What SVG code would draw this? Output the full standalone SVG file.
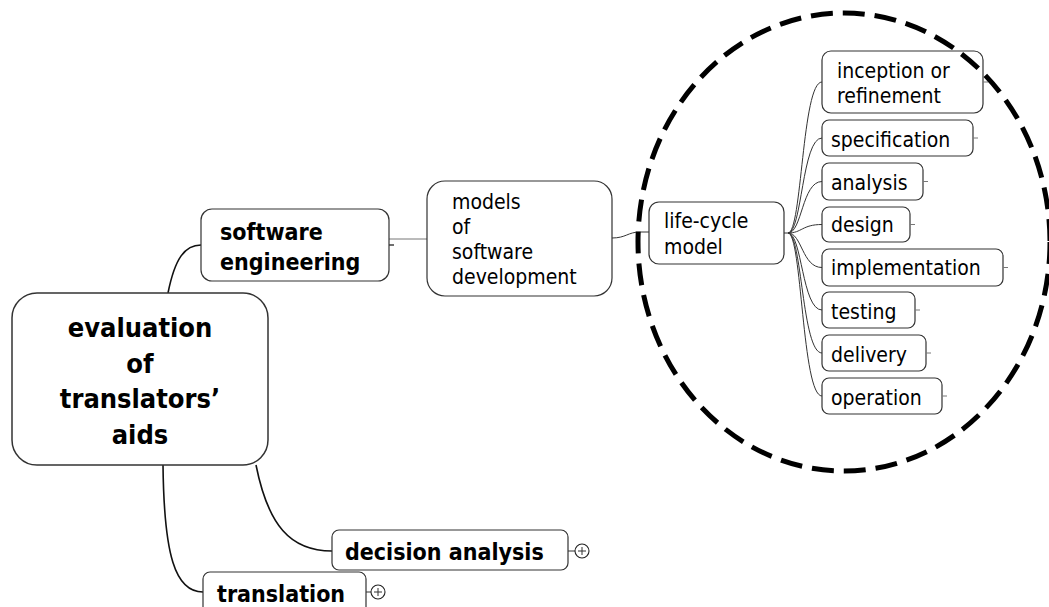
<svg xmlns="http://www.w3.org/2000/svg" width="1049" height="607" viewBox="0 0 1049 607">
  <style>
    text { font-family: "DejaVu Sans Condensed", "DejaVu Sans", sans-serif; font-stretch: condensed; fill: #000; }
    .b { font-weight: bold; font-size: 23px; }
    .root { font-weight: bold; font-size: 27px; text-anchor: middle; }
    .r { font-size: 21px; }
    .box { fill: #fff; stroke: #333; stroke-width: 1.2; }
    .main { fill: none; stroke: #111; stroke-width: 1.6; }
    .thin { fill: none; stroke: #333; stroke-width: 1; }
    .stub { fill: none; stroke: #777; stroke-width: 1; }
    .plus { fill: #fff; stroke: #222; stroke-width: 1.1; }
    .ring { fill: none; stroke: #000; stroke-width: 5; stroke-dasharray: 22 10; }
  </style>

  <g id="connectors">
    <path class="main" d="M168 293 C175 258 185 245 201 245"/>
    <path class="main" d="M256 465 C268 525 290 551 332 551"/>
    <path class="main" d="M163 465 C164 555 175 592 203 592"/>
    <path class="stub" d="M389 239 L427 239"/>
    <path class="main" d="M389 245 L394 245" style="stroke-width:1.2"/>
    <path class="thin" d="M612 238 C626 238 628 232 640 232 L649 232"/>
    <path class="thin" d="M784 233 L788 233"/>
    <path class="thin" d="M788 233 C802 233 802 82 822 82"/>
    <path class="thin" d="M788 233 C802 233 802 138 822 138"/>
    <path class="thin" d="M788 233 C802 233 802 181.5 822 181.5"/>
    <path class="thin" d="M788 233 C802 233 802 224.5 822 224.5"/>
    <path class="thin" d="M788 233 C802 233 802 267.5 822 267.5"/>
    <path class="thin" d="M788 233 C802 233 802 310 822 310"/>
    <path class="thin" d="M788 233 C802 233 802 353 822 353"/>
    <path class="thin" d="M788 233 C802 233 802 396 822 396"/>
  </g>

  <g id="root">
    <rect class="box" x="12" y="293" width="256" height="172" rx="25" style="stroke-width:1.5"/>
    <text class="root" x="140" y="337">evaluation</text>
    <text class="root" x="140" y="372.5">of</text>
    <text class="root" x="140" y="408">translators’</text>
    <text class="root" x="140" y="443.5">aids</text>
  </g>

  <g id="software-engineering">
    <rect class="box" x="201" y="209" width="188" height="72" rx="11"/>
    <text class="b" x="220" y="240">software</text>
    <text class="b" x="220" y="270">engineering</text>
  </g>

  <g id="models">
    <rect class="box" x="427" y="181" width="185" height="115" rx="18"/>
    <text class="r" x="452" y="209">models</text>
    <text class="r" x="452" y="234">of</text>
    <text class="r" x="452" y="259">software</text>
    <text class="r" x="452" y="284">development</text>
  </g>

  <g id="life-cycle">
    <rect class="box" x="649" y="202" width="135" height="62" rx="10"/>
    <text class="r" x="664" y="228">life-cycle</text>
    <text class="r" x="664" y="254">model</text>
  </g>

  <g id="inception">
    <rect class="box" x="822" y="51" width="161" height="62" rx="9"/>
    <path class="stub" d="M983 82 L988 82"/>
    <text class="r" x="837" y="78">inception or</text>
    <text class="r" x="837" y="103">refinement</text>
  </g>
  <g id="specification">
    <rect class="box" x="822" y="120" width="151" height="36" rx="7"/>
    <path class="stub" d="M973 138 L978 138"/>
    <text class="r" x="831" y="146.5">specification</text>
  </g>
  <g id="analysis">
    <rect class="box" x="822" y="163" width="101" height="37" rx="7"/>
    <path class="stub" d="M923 181.5 L928 181.5"/>
    <text class="r" x="831" y="190">analysis</text>
  </g>
  <g id="design">
    <rect class="box" x="822" y="207" width="88" height="35" rx="7"/>
    <path class="stub" d="M910 224.5 L915 224.5"/>
    <text class="r" x="831" y="232">design</text>
  </g>
  <g id="implementation">
    <rect class="box" x="822" y="249" width="181" height="37" rx="7"/>
    <path class="stub" d="M1003 267.5 L1008 267.5"/>
    <text class="r" x="831" y="275">implementation</text>
  </g>
  <g id="testing">
    <rect class="box" x="822" y="292" width="93" height="36" rx="7"/>
    <path class="stub" d="M915 310 L920 310"/>
    <text class="r" x="831" y="319">testing</text>
  </g>
  <g id="delivery">
    <rect class="box" x="822" y="335" width="104" height="36" rx="7"/>
    <path class="stub" d="M926 353 L931 353"/>
    <text class="r" x="831" y="362">delivery</text>
  </g>
  <g id="operation">
    <rect class="box" x="822" y="378" width="120" height="36" rx="7"/>
    <path class="stub" d="M942 396 L947 396"/>
    <text class="r" x="831" y="404.5">operation</text>
  </g>

  <g id="decision-analysis">
    <rect class="box" x="332" y="530" width="236" height="40" rx="7"/>
    <path class="thin" d="M568 551 L575 551"/>
    <circle class="plus" cx="582" cy="551" r="7"/>
    <path class="thin" d="M578 551 L586 551 M582 547 L582 555"/>
    <text class="b" x="345" y="560">decision analysis</text>
  </g>

  <g id="translation">
    <rect class="box" x="203" y="572" width="163" height="50" rx="7"/>
    <path class="thin" d="M366 592 L371 592"/>
    <circle class="plus" cx="378" cy="592" r="7"/>
    <path class="thin" d="M374 592 L382 592 M378 588 L378 596"/>
    <text class="b" x="217" y="602">translation</text>
  </g>

  <!-- dashed outline around the life-cycle phases -->
  <ellipse class="ring" cx="844" cy="242" rx="206" ry="229"/>
</svg>
